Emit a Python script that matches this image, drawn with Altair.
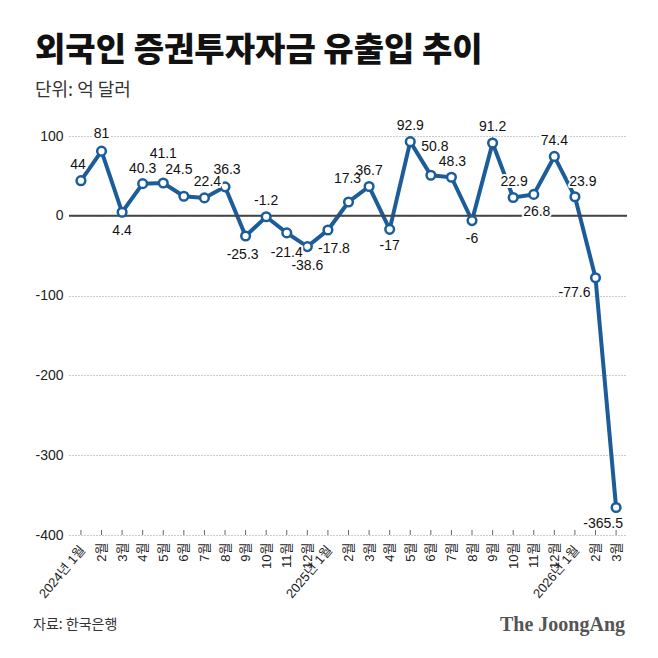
import altair as alt
import pandas as pd

# 외국인 증권투자자금 유출입 (억 달러), 2024년 1월 ~ 2026년 3월
months = [
    "2024년 1월", "2월", "3월", "4월", "5월", "6월", "7월", "8월", "9월", "10월", "11월", "12월",
    "2025년 1월", "2월", "3월", "4월", "5월", "6월", "7월", "8월", "9월", "10월", "11월", "12월",
    "2026년 1월", "2월", "3월",
]
flows = [
    44, 81, 4.4, 40.3, 41.1, 24.5, 22.4, 36.3, -25.3, -1.2, -21.4, -38.6,
    -17.8, 17.3, 36.7, -17, 92.9, 50.8, 48.3, -6, 91.2, 22.9, 26.8, 74.4,
    23.9, -77.6, -365.5,
]
y_ticks = [100, 0, -100, -200, -300, -400]

# label nudges in pixels (dx, dy) so the value labels sit like the original
label_nudge = [
    (-3, -16), (0, -17), (0, 19), (0, -15), (0, -29), (-5, -26), (3, -16), (2, -17),
    (-3, 19), (0, -16), (0, 20), (0, 19), (6, 19), (-1, -23), (0, -16), (0, 17),
    (0, -16), (4, -28), (1, -15), (0, 18), (0, -16), (1, -16), (3, 18), (0, -15),
    (8, -15), (-21, 15), (-13, 17),
]

W, H = 558, 399
X_DOMAIN = [-0.58, 26.53]
Y_DOMAIN = [-400, 100]
BLUE = "#1c5d99"
FONT = "Liberation Sans, Noto Sans CJK KR"
KFONT = "Noto Sans CJK KR"

step = W / (X_DOMAIN[1] - X_DOMAIN[0])
ppu = H / (Y_DOMAIN[1] - Y_DOMAIN[0])

df = pd.DataFrame({"idx": range(len(months)), "month": months, "flow": flows})
df["label"] = [f"{v:g}" for v in flows]
df["lx"] = [i + dx / step for i, (dx, dy) in zip(df["idx"], label_nudge)]
df["ly"] = [v - dy / ppu for v, (dx, dy) in zip(flows, label_nudge)]

short_labels = ["" if "년" in m else m for m in months]
label_expr = "[" + ",".join(f"'{s}'" for s in short_labels) + "][datum.value]"

x_scale = alt.Scale(domain=X_DOMAIN, nice=False, zero=False)
y_scale = alt.Scale(domain=Y_DOMAIN, nice=False)

x_axis = alt.Axis(
    values=list(range(len(months))), labelExpr=label_expr, labelAngle=270,
    labelFontSize=13, labelPadding=7, labelFont=FONT, labelColor="#222",
    ticks=False, domain=False, grid=False, title=None,
    labelOverlap=False, labelFlush=False,
)
y_axis = alt.Axis(
    values=y_ticks, title=None, domain=False, ticks=False,
    labelFontSize=14, labelFont=FONT, labelColor="#222", labelPadding=6,
    gridColor="#999", gridDash=[1, 2], gridWidth=1,
    labelExpr="replace(datum.label, '−', '-')",
)


def xq(field):
    return alt.X(f"{field}:Q", scale=x_scale, axis=x_axis)


def yq(field):
    return alt.Y(f"{field}:Q", scale=y_scale, axis=y_axis)


base = alt.Chart(df)

line = base.mark_line(color=BLUE, strokeWidth=4).encode(x=xq("idx"), y=yq("flow"))

zero = alt.Chart(pd.DataFrame({"zero": [0]})).mark_rule(color="#444", strokeWidth=2).encode(
    y=yq("zero")
)

ticks = base.mark_rule(color="#666", strokeWidth=1).encode(
    x=xq("idx"), y=alt.value(H - 5), y2=alt.value(H)
)

points = base.mark_point(shape="circle", filled=True, fill="white", stroke=BLUE,
                         strokeWidth=2.5, size=75, opacity=1).encode(x=xq("idx"), y=yq("flow"))

halo = base.mark_text(font=FONT, fontSize=14, stroke="white", strokeWidth=4,
                      strokeJoin="round", fill="white").encode(
    x=xq("lx"), y=yq("ly"), text="label:N"
)
labels = base.mark_text(font=FONT, fontSize=14, color="#111").encode(
    x=xq("lx"), y=yq("ly"), text="label:N"
)

year_labels = base.transform_filter("indexof(datum.month, '년') >= 0").mark_text(
    font=FONT, fontSize=13, color="#222", angle=310, align="right", baseline="middle",
    dx=3,
).encode(x=xq("idx"), y=alt.value(H + 15), text="month:N")


def note(text, x, y, **style):
    return alt.Chart(pd.DataFrame({"text": [text]})).mark_text(**style).encode(
        x=alt.value(x), y=alt.value(y), text="text:N"
    )


title = note("외국인 증권투자자금 유출입 추이", -34, -75, font=KFONT, fontSize=33,
             fontWeight=900, color="#111", align="left", baseline="alphabetic")
subtitle = note("단위: 억 달러", -34, -40, font=KFONT, fontSize=18,
                color="#333", align="left", baseline="alphabetic")
source = note("자료: 한국은행", -36, 493, font=KFONT, fontSize=14,
              color="#333", align="left", baseline="alphabetic")
brand = note("The JoongAng", W - 2, 495, font="Liberation Serif", fontSize=20,
             fontWeight="bold", color="#555", align="right", baseline="alphabetic")

chart = (
    alt.layer(line, zero, ticks, points, halo, labels, year_labels,
              title, subtitle, source, brand)
    .properties(
        width=W, height=H, autosize="none",
        padding={"left": 61, "top": 128, "right": 23, "bottom": 115},
        background="white",
    )
    .configure_view(stroke=None)
)

chart.save("out.html", embed_options={"renderer": "svg", "actions": False})
